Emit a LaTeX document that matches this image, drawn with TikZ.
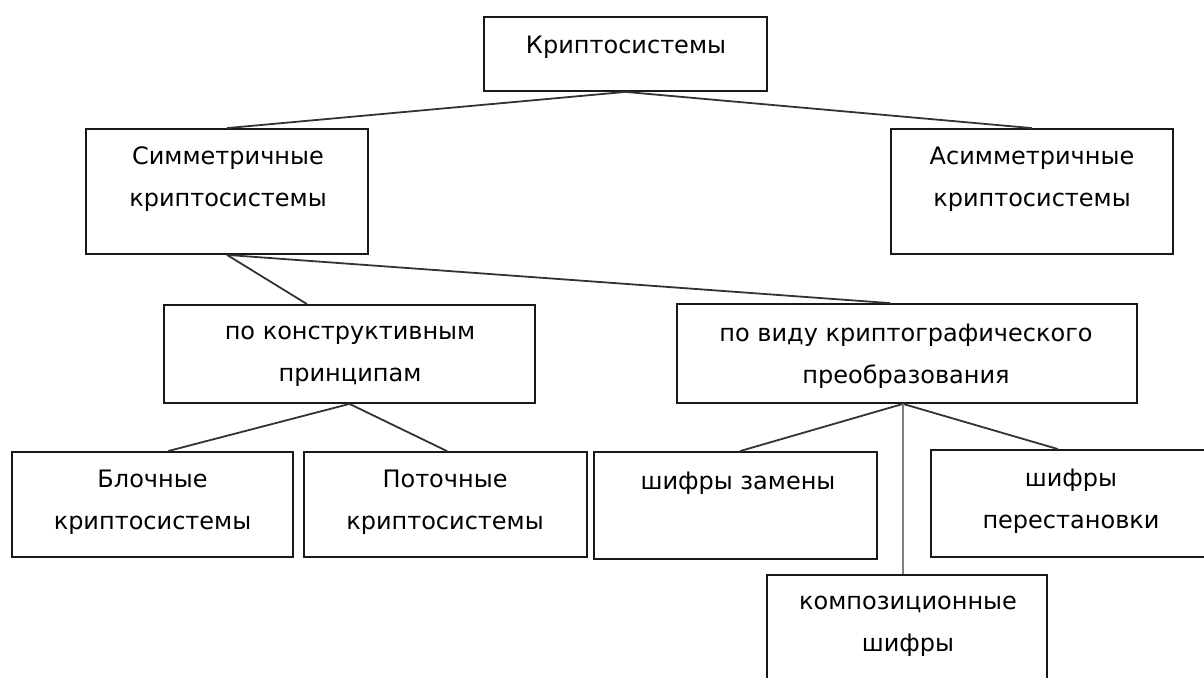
\documentclass[tikz,border=0pt]{standalone}
\usepackage{fontspec}
\setmainfont{DejaVu Sans}
\usetikzlibrary{calc}
\tikzset{
  box/.style={draw=black!90, line width=1.8pt, fill=white, inner sep=0pt},
  lbl/.style={align=center, inner sep=0pt, font=\fontsize{24}{42}\selectfont},
  conn/.style={line width=1.8pt, draw=black!80},
  gconn/.style={line width=2pt, draw=black!50},
}
\begin{document}
\begin{tikzpicture}[x=1pt,y=-1pt]
\useasboundingbox (0,0) rectangle (1204,677);
\clip (0,0) rectangle (1204,677);
\fill[white] (0,0) rectangle (1204,677);
% boxes
\node[box, minimum width=283pt, minimum height=74pt] (top) at (625.5,54) {};
\node[box, minimum width=282pt, minimum height=125pt] (symm) at (227,191.5) {};
\node[box, minimum width=282pt, minimum height=125pt] (asym) at (1032,191.5) {};
\node[box, minimum width=371pt, minimum height=98pt] (konstr) at (349.5,354) {};
\node[box, minimum width=460pt, minimum height=99pt] (vid) at (907,353.5) {};
\node[box, minimum width=281pt, minimum height=105pt] (blok) at (152.5,504.5) {};
\node[box, minimum width=283pt, minimum height=105pt] (potok) at (445.5,504.5) {};
\node[box, minimum width=283pt, minimum height=107pt] (zamena) at (735.5,505.5) {};
\node[box, minimum width=280pt, minimum height=107pt] (perest) at (1071,503.5) {};
\node[box, minimum width=280pt, minimum height=125pt] (kompoz) at (907,637.5) {};
% labels
\node[lbl] (tTop) at (626,47) {Криптосистемы};
\node[lbl] (tSymm) at (228,179.5) {Симметричные\\криптосистемы};
\node[lbl] (tAsym) at (1032,179.5) {Асимметричные\\криптосистемы};
\node[lbl] (tKonstr) at (350,356) {по конструктивным\\принципам};
\node[lbl] (tVid) at (906,356) {по виду криптографического\\преобразования};
\node[lbl] (tBlok) at (152.5,502.5) {Блочные\\криптосистемы};
\node[lbl] (tPotok) at (445,502.5) {Поточные\\криптосистемы};
\node[lbl] (tZamena) at (738,483) {шифры замены};
\node[lbl] (tPerest) at (1071,501) {шифры\\перестановки};
\node[lbl] (tKompoz) at (908,626) {композиционные\\шифры};
% connectors
\draw[conn] (top.south) -- (symm.north);
\draw[conn] (top.south) -- (asym.north);
\draw[conn] (symm.south) -- ([xshift=-42.5pt]konstr.north);
\draw[conn] (symm.south) -- ([xshift=-17pt]vid.north);
\draw[conn] (konstr.south) -- ([xshift=15.5pt]blok.north);
\draw[conn] (konstr.south) -- ([xshift=1.5pt]potok.north);
\draw[conn] ([xshift=-4pt]vid.south) -- ([xshift=4.5pt]zamena.north);
\draw[conn] ([xshift=-4pt]vid.south) -- ([xshift=-13pt]perest.north);
\draw[gconn] ([xshift=-4pt]vid.south) -- ([xshift=-4pt]kompoz.north);
\end{tikzpicture}
\end{document}
